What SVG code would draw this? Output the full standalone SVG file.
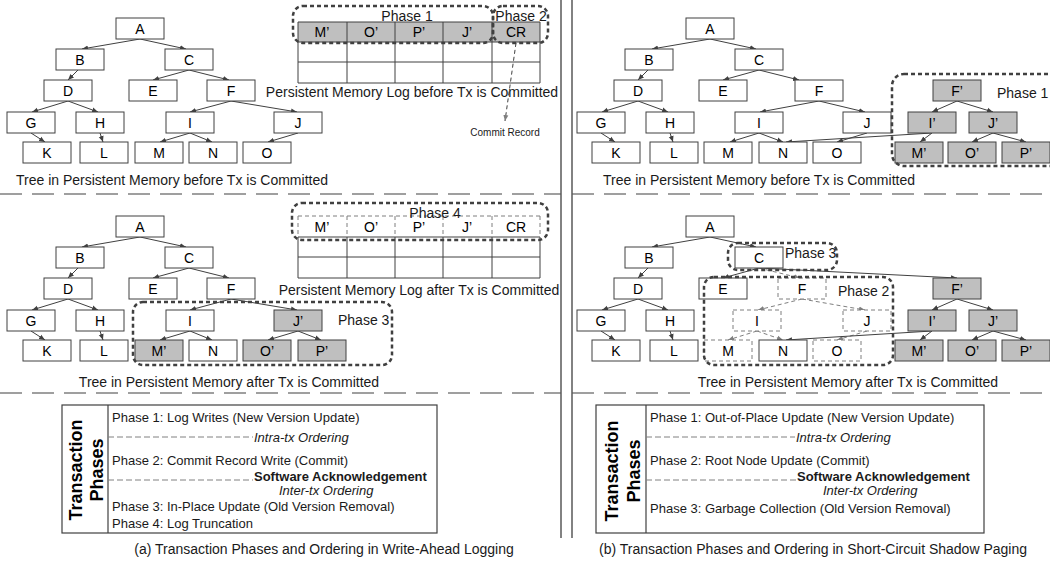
<svg xmlns="http://www.w3.org/2000/svg" width="1050" height="564" viewBox="0 0 1050 564">
<defs>
<marker id="ah" viewBox="0 0 6 6" refX="6" refY="3" markerWidth="6" markerHeight="6" markerUnits="userSpaceOnUse" orient="auto"><path d="M0,0.5 L6,3 L0,5.5 z" fill="#404040"/></marker>
<marker id="ahg" viewBox="0 0 6 6" refX="6" refY="3" markerWidth="6" markerHeight="6" markerUnits="userSpaceOnUse" orient="auto"><path d="M0,0.5 L6,3 L0,5.5 z" fill="#7f7f7f"/></marker>
</defs>
<style>
text{font-family:"Liberation Sans",Arial,sans-serif;fill:#1a1a1a}
.n rect{fill:#fff;stroke:#404040;stroke-width:1}
.n.g rect{fill:#bfbfbf}
.n.d rect{stroke:#7f7f7f;stroke-dasharray:4 3}
.n text{font-size:14px;text-anchor:middle;fill:#000}
.e line{stroke:#404040;stroke-width:1;marker-end:url(#ah)}
.e line.dg{stroke:#7f7f7f;stroke-dasharray:4 3;marker-end:url(#ahg)}
.ph rect{fill:none;stroke:#404040;stroke-width:2.5;stroke-dasharray:4 3}
.ph text,.cap{font-size:14px}
.mid{text-anchor:middle}
.tbl line{stroke:#404040;stroke-width:1}
.tbl line.dl{stroke:#7f7f7f;stroke-dasharray:4 3}
.tbl text{font-size:14px;text-anchor:middle;fill:#000}
.sep{stroke:#808080;stroke-width:1.5;stroke-dasharray:22 10}
.vl{stroke:#595959;stroke-width:1.5}
.box rect,.box line.s{fill:none;stroke:#404040;stroke-width:1.2}
.box line.o{stroke:#808080;stroke-width:1;stroke-dasharray:6 3}
.box text{font-size:13px}
.box text.it{font-style:italic}
.box text.bd{font-weight:bold}
.box text.tp{font-size:18px;font-weight:bold;text-anchor:middle;fill:#000}
</style>

<!-- separators -->
<g id="separators">
<line class="sep" x1="0" y1="194" x2="561" y2="194"/>
<line class="sep" x1="572" y1="194" x2="1050" y2="194"/>
<line class="sep" x1="0" y1="393" x2="561" y2="393"/>
<line class="sep" x1="572" y1="393" x2="1050" y2="393"/>
<line class="vl" x1="561" y1="0" x2="561" y2="538"/>
<line class="vl" x1="572" y1="0" x2="572" y2="538"/>
</g>

<!-- connectors -->
<g id="connectors" class="e">
<!-- top-left tree -->
<line x1="140" y1="39" x2="82" y2="49"/>
<line x1="140" y1="39" x2="186" y2="49"/>
<line x1="78" y1="70" x2="68" y2="80"/>
<line x1="189" y1="70" x2="153" y2="80"/>
<line x1="189" y1="70" x2="229" y2="80"/>
<line x1="68" y1="101" x2="32" y2="112"/>
<line x1="68" y1="101" x2="98" y2="112"/>
<line x1="231" y1="101" x2="190" y2="112"/>
<line x1="231" y1="101" x2="297" y2="112"/>
<line x1="31" y1="133" x2="45" y2="142"/>
<line x1="100" y1="133" x2="103" y2="142"/>
<line x1="190" y1="133" x2="160" y2="142"/>
<line x1="190" y1="133" x2="212" y2="142"/>
<line x1="298" y1="133" x2="268" y2="142"/>
<!-- commit record pointer -->
<line class="dg" x1="517" y1="36" x2="505" y2="121" style="stroke:#404040"/>
<!-- top-right tree -->
<line x1="710" y1="39" x2="652" y2="49"/>
<line x1="710" y1="39" x2="756" y2="49"/>
<line x1="648" y1="70" x2="638" y2="80"/>
<line x1="759" y1="70" x2="723" y2="80"/>
<line x1="759" y1="70" x2="799" y2="80"/>
<line x1="638" y1="101" x2="602" y2="112"/>
<line x1="638" y1="101" x2="668" y2="112"/>
<line x1="819" y1="101" x2="760" y2="112"/>
<line x1="819" y1="101" x2="865" y2="112"/>
<line x1="601" y1="133" x2="615" y2="142"/>
<line x1="670" y1="133" x2="673" y2="142"/>
<line x1="759" y1="133" x2="730" y2="142"/>
<line x1="759" y1="133" x2="783" y2="142"/>
<line x1="867" y1="133" x2="837" y2="142"/>
<line x1="957" y1="101" x2="932" y2="112"/>
<line x1="957" y1="101" x2="993" y2="112"/>
<line x1="932" y1="133" x2="920" y2="142"/>
<line x1="932" y1="133" x2="786" y2="142"/>
<line x1="993" y1="133" x2="972" y2="142"/>
<line x1="993" y1="133" x2="1026" y2="142"/>
<!-- bottom-left tree -->
<line x1="140" y1="237" x2="82" y2="247"/>
<line x1="140" y1="237" x2="186" y2="247"/>
<line x1="78" y1="268" x2="68" y2="278"/>
<line x1="189" y1="268" x2="153" y2="278"/>
<line x1="189" y1="268" x2="229" y2="278"/>
<line x1="68" y1="299" x2="32" y2="310"/>
<line x1="68" y1="299" x2="98" y2="310"/>
<line x1="231" y1="299" x2="190" y2="310"/>
<line x1="231" y1="299" x2="297" y2="310"/>
<line x1="31" y1="331" x2="45" y2="340"/>
<line x1="100" y1="331" x2="103" y2="340"/>
<line x1="190" y1="331" x2="160" y2="340"/>
<line x1="190" y1="331" x2="212" y2="340"/>
<line x1="298" y1="331" x2="268" y2="340"/>
<line x1="298" y1="331" x2="321" y2="340"/>
<!-- bottom-right tree -->
<line x1="710" y1="237" x2="652" y2="247"/>
<line x1="710" y1="237" x2="756" y2="247"/>
<line x1="648" y1="268" x2="638" y2="278"/>
<line x1="759" y1="268" x2="723" y2="278"/>
<line class="dg" x1="759" y1="268" x2="800" y2="278"/>
<line x1="759" y1="268" x2="957" y2="278"/>
<line x1="638" y1="299" x2="602" y2="310"/>
<line x1="638" y1="299" x2="668" y2="310"/>
<line class="dg" x1="802" y1="299" x2="758" y2="310"/>
<line class="dg" x1="802" y1="299" x2="865" y2="310"/>
<line x1="601" y1="331" x2="615" y2="340"/>
<line x1="670" y1="331" x2="673" y2="340"/>
<line class="dg" x1="757" y1="331" x2="728" y2="340"/>
<line class="dg" x1="757" y1="331" x2="783" y2="340"/>
<line class="dg" x1="867" y1="331" x2="837" y2="340"/>
<line x1="957" y1="299" x2="932" y2="310"/>
<line x1="957" y1="299" x2="993" y2="310"/>
<line x1="932" y1="331" x2="920" y2="340"/>
<line x1="932" y1="331" x2="786" y2="340"/>
<line x1="993" y1="331" x2="972" y2="340"/>
<line x1="993" y1="331" x2="1026" y2="340"/>
</g>

<!-- top-left tree nodes -->
<g id="tl-A" class="n"><rect x="116" y="18" width="48" height="21"/><text x="140" y="34">A</text></g>
<g id="tl-B" class="n"><rect x="56" y="49" width="48" height="21"/><text x="80" y="65">B</text></g>
<g id="tl-C" class="n"><rect x="165" y="49" width="48" height="21"/><text x="189" y="65">C</text></g>
<g id="tl-D" class="n"><rect x="44" y="80" width="48" height="21"/><text x="68" y="96">D</text></g>
<g id="tl-E" class="n"><rect x="129" y="80" width="48" height="21"/><text x="153" y="96">E</text></g>
<g id="tl-F" class="n"><rect x="207" y="80" width="48" height="21"/><text x="231" y="96">F</text></g>
<g id="tl-G" class="n"><rect x="7" y="112" width="48" height="21"/><text x="31" y="128">G</text></g>
<g id="tl-H" class="n"><rect x="76" y="112" width="48" height="21"/><text x="100" y="128">H</text></g>
<g id="tl-I" class="n"><rect x="166" y="112" width="48" height="21"/><text x="190" y="128">I</text></g>
<g id="tl-J" class="n"><rect x="274" y="112" width="48" height="21"/><text x="298" y="128">J</text></g>
<g id="tl-K" class="n"><rect x="23" y="142" width="48" height="21"/><text x="47" y="158">K</text></g>
<g id="tl-L" class="n"><rect x="80" y="142" width="48" height="21"/><text x="104" y="158">L</text></g>
<g id="tl-M" class="n"><rect x="135" y="142" width="48" height="21"/><text x="159" y="158">M</text></g>
<g id="tl-N" class="n"><rect x="189" y="142" width="48" height="21"/><text x="213" y="158">N</text></g>
<g id="tl-O" class="n"><rect x="243" y="142" width="48" height="21"/><text x="267" y="158">O</text></g>
<text class="cap mid" x="172" y="185">Tree in Persistent Memory before Tx is Committed</text>

<!-- top-left log -->
<g id="log-before" class="tbl">
<rect x="298" y="22" width="242" height="20" fill="#bfbfbf"/>
<line x1="298" y1="22" x2="540" y2="22"/>
<line x1="298" y1="42" x2="540" y2="42"/>
<line x1="298" y1="62" x2="540" y2="62"/>
<line x1="298" y1="83" x2="540" y2="83"/>
<line x1="298" y1="22" x2="298" y2="83"/>
<line x1="347" y1="22" x2="347" y2="83"/>
<line x1="395" y1="22" x2="395" y2="83"/>
<line x1="443" y1="22" x2="443" y2="83"/>
<line x1="492" y1="22" x2="492" y2="83"/>
<line x1="540" y1="22" x2="540" y2="83"/>
<text x="322" y="37">M’</text><text x="371" y="37">O’</text><text x="419" y="37">P’</text><text x="467" y="37">J’</text><text x="516" y="37">CR</text>
</g>
<g id="tl-phase1" class="ph"><rect x="293" y="6" width="200" height="37" rx="10"/><text class="mid" x="407" y="21">Phase 1</text></g>
<g id="tl-phase2" class="ph"><rect x="493" y="6" width="55" height="37" rx="10"/><text class="mid" x="521" y="21">Phase 2</text></g>
<text class="cap mid" x="412" y="97">Persistent Memory Log before Tx is Committed</text>
<text class="mid" x="505" y="136" style="font-size:10px">Commit Record</text>

<!-- top-right tree nodes -->
<g id="tr-A" class="n"><rect x="686" y="18" width="48" height="21"/><text x="710" y="34">A</text></g>
<g id="tr-B" class="n"><rect x="625" y="49" width="48" height="21"/><text x="649" y="65">B</text></g>
<g id="tr-C" class="n"><rect x="735" y="49" width="48" height="21"/><text x="759" y="65">C</text></g>
<g id="tr-D" class="n"><rect x="614" y="80" width="48" height="21"/><text x="638" y="96">D</text></g>
<g id="tr-E" class="n"><rect x="699" y="80" width="48" height="21"/><text x="723" y="96">E</text></g>
<g id="tr-F" class="n"><rect x="795" y="80" width="48" height="21"/><text x="819" y="96">F</text></g>
<g id="tr-G" class="n"><rect x="577" y="112" width="48" height="21"/><text x="601" y="128">G</text></g>
<g id="tr-H" class="n"><rect x="646" y="112" width="48" height="21"/><text x="670" y="128">H</text></g>
<g id="tr-I" class="n"><rect x="735" y="112" width="48" height="21"/><text x="759" y="128">I</text></g>
<g id="tr-J" class="n"><rect x="843" y="112" width="48" height="21"/><text x="867" y="128">J</text></g>
<g id="tr-K" class="n"><rect x="592" y="142" width="48" height="21"/><text x="616" y="158">K</text></g>
<g id="tr-L" class="n"><rect x="650" y="142" width="48" height="21"/><text x="674" y="158">L</text></g>
<g id="tr-M" class="n"><rect x="704" y="142" width="48" height="21"/><text x="728" y="158">M</text></g>
<g id="tr-N" class="n"><rect x="759" y="142" width="48" height="21"/><text x="783" y="158">N</text></g>
<g id="tr-O" class="n"><rect x="813" y="142" width="48" height="21"/><text x="837" y="158">O</text></g>
<g id="tr-Fp" class="n g"><rect x="933" y="80" width="48" height="21"/><text x="957" y="96">F’</text></g>
<g id="tr-Ip" class="n g"><rect x="908" y="112" width="48" height="21"/><text x="932" y="128">I’</text></g>
<g id="tr-Jp" class="n g"><rect x="969" y="112" width="48" height="21"/><text x="993" y="128">J’</text></g>
<g id="tr-Mp" class="n g"><rect x="895" y="142" width="48" height="21"/><text x="919" y="158">M’</text></g>
<g id="tr-Op" class="n g"><rect x="948" y="142" width="48" height="21"/><text x="972" y="158">O’</text></g>
<g id="tr-Pp" class="n g"><rect x="1002" y="142" width="48" height="21"/><text x="1026" y="158">P’</text></g>
<g id="tr-phase1" class="ph"><rect x="892" y="74" width="172" height="92" rx="12"/><text x="997" y="98">Phase 1</text></g>
<text class="cap mid" x="759" y="185">Tree in Persistent Memory before Tx is Committed</text>

<!-- bottom-left tree nodes -->
<g id="bl-A" class="n"><rect x="116" y="216" width="48" height="21"/><text x="140" y="232">A</text></g>
<g id="bl-B" class="n"><rect x="56" y="247" width="48" height="21"/><text x="80" y="263">B</text></g>
<g id="bl-C" class="n"><rect x="165" y="247" width="48" height="21"/><text x="189" y="263">C</text></g>
<g id="bl-D" class="n"><rect x="44" y="278" width="48" height="21"/><text x="68" y="294">D</text></g>
<g id="bl-E" class="n"><rect x="129" y="278" width="48" height="21"/><text x="153" y="294">E</text></g>
<g id="bl-F" class="n"><rect x="207" y="278" width="48" height="21"/><text x="231" y="294">F</text></g>
<g id="bl-G" class="n"><rect x="7" y="310" width="48" height="21"/><text x="31" y="326">G</text></g>
<g id="bl-H" class="n"><rect x="76" y="310" width="48" height="21"/><text x="100" y="326">H</text></g>
<g id="bl-I" class="n"><rect x="166" y="310" width="48" height="21"/><text x="190" y="326">I</text></g>
<g id="bl-Jp" class="n g"><rect x="274" y="310" width="48" height="21"/><text x="298" y="326">J’</text></g>
<g id="bl-K" class="n"><rect x="23" y="340" width="48" height="21"/><text x="47" y="356">K</text></g>
<g id="bl-L" class="n"><rect x="80" y="340" width="48" height="21"/><text x="104" y="356">L</text></g>
<g id="bl-Mp" class="n g"><rect x="135" y="340" width="48" height="21"/><text x="159" y="356">M’</text></g>
<g id="bl-N" class="n"><rect x="189" y="340" width="48" height="21"/><text x="213" y="356">N</text></g>
<g id="bl-Op" class="n g"><rect x="243" y="340" width="48" height="21"/><text x="267" y="356">O’</text></g>
<g id="bl-Pp" class="n g"><rect x="298" y="340" width="48" height="21"/><text x="322" y="356">P’</text></g>
<g id="bl-phase3" class="ph"><rect x="133" y="302" width="259" height="63" rx="10"/><text x="338" y="325">Phase 3</text></g>
<text class="cap mid" x="229" y="387">Tree in Persistent Memory after Tx is Committed</text>

<!-- bottom-left log -->
<g id="log-after" class="tbl">
<line class="dl" x1="298" y1="216" x2="540" y2="216"/>
<line class="dl" x1="298" y1="216" x2="298" y2="237"/>
<line class="dl" x1="347" y1="216" x2="347" y2="237"/>
<line class="dl" x1="395" y1="216" x2="395" y2="237"/>
<line class="dl" x1="443" y1="216" x2="443" y2="237"/>
<line class="dl" x1="492" y1="216" x2="492" y2="237"/>
<line class="dl" x1="540" y1="216" x2="540" y2="237"/>
<line x1="298" y1="237" x2="540" y2="237"/>
<line x1="298" y1="257" x2="540" y2="257"/>
<line x1="298" y1="278" x2="540" y2="278"/>
<line x1="298" y1="237" x2="298" y2="278"/>
<line x1="347" y1="237" x2="347" y2="278"/>
<line x1="395" y1="237" x2="395" y2="278"/>
<line x1="443" y1="237" x2="443" y2="278"/>
<line x1="492" y1="237" x2="492" y2="278"/>
<line x1="540" y1="237" x2="540" y2="278"/>
<text x="322" y="232">M’</text><text x="371" y="232">O’</text><text x="419" y="232">P’</text><text x="467" y="232">J’</text><text x="516" y="232">CR</text>
</g>
<g id="bl-phase4" class="ph"><rect x="292" y="203" width="256" height="37" rx="10"/><text class="mid" x="435" y="218">Phase 4</text></g>
<text class="cap mid" x="419" y="295">Persistent Memory Log after Tx is Committed</text>

<!-- bottom-right tree nodes -->
<g id="br-A" class="n"><rect x="686" y="216" width="48" height="21"/><text x="710" y="232">A</text></g>
<g id="br-B" class="n"><rect x="625" y="247" width="48" height="21"/><text x="649" y="263">B</text></g>
<g id="br-C" class="n"><rect x="735" y="247" width="48" height="21"/><text x="759" y="263">C</text></g>
<g id="br-D" class="n"><rect x="614" y="278" width="48" height="21"/><text x="638" y="294">D</text></g>
<g id="br-E" class="n"><rect x="699" y="278" width="48" height="21"/><text x="723" y="294">E</text></g>
<g id="br-F" class="n d"><rect x="778" y="278" width="48" height="21"/><text x="802" y="294">F</text></g>
<g id="br-G" class="n"><rect x="577" y="310" width="48" height="21"/><text x="601" y="326">G</text></g>
<g id="br-H" class="n"><rect x="646" y="310" width="48" height="21"/><text x="670" y="326">H</text></g>
<g id="br-I" class="n d"><rect x="733" y="310" width="48" height="21"/><text x="757" y="326">I</text></g>
<g id="br-J" class="n d"><rect x="843" y="310" width="48" height="21"/><text x="867" y="326">J</text></g>
<g id="br-K" class="n"><rect x="592" y="340" width="48" height="21"/><text x="616" y="356">K</text></g>
<g id="br-L" class="n"><rect x="650" y="340" width="48" height="21"/><text x="674" y="356">L</text></g>
<g id="br-M" class="n d"><rect x="704" y="340" width="48" height="21"/><text x="728" y="356">M</text></g>
<g id="br-N" class="n"><rect x="759" y="340" width="48" height="21"/><text x="783" y="356">N</text></g>
<g id="br-O" class="n d"><rect x="813" y="340" width="48" height="21"/><text x="837" y="356">O</text></g>
<g id="br-Fp" class="n g"><rect x="933" y="278" width="48" height="21"/><text x="957" y="294">F’</text></g>
<g id="br-Ip" class="n g"><rect x="908" y="310" width="48" height="21"/><text x="932" y="326">I’</text></g>
<g id="br-Jp" class="n g"><rect x="969" y="310" width="48" height="21"/><text x="993" y="326">J’</text></g>
<g id="br-Mp" class="n g"><rect x="895" y="340" width="48" height="21"/><text x="919" y="356">M’</text></g>
<g id="br-Op" class="n g"><rect x="948" y="340" width="48" height="21"/><text x="972" y="356">O’</text></g>
<g id="br-Pp" class="n g"><rect x="1002" y="340" width="48" height="21"/><text x="1026" y="356">P’</text></g>
<g id="br-phase3" class="ph"><rect x="728" y="243" width="109" height="27" rx="10"/><text x="785" y="258">Phase 3</text></g>
<g id="br-phase2" class="ph"><rect x="704" y="277" width="189" height="88" rx="10"/><text x="838" y="296">Phase 2</text></g>
<text class="cap mid" x="848" y="387">Tree in Persistent Memory after Tx is Committed</text>

<!-- bottom-left phases box -->
<g id="wal-phases" class="box">
<rect x="62" y="405" width="375" height="128"/>
<line class="s" x1="108" y1="405" x2="108" y2="533"/>
<text class="tp" transform="translate(82,470) rotate(-90)">Transaction</text>
<text class="tp" transform="translate(103,470) rotate(-90)">Phases</text>
<text x="112" y="422">Phase 1: Log Writes (New Version Update)</text>
<line class="o" x1="108" y1="437" x2="253" y2="437"/>
<text class="it" x="254" y="442">Intra-tx Ordering</text>
<text x="112" y="465">Phase 2: Commit Record Write (Commit)</text>
<line class="o" x1="108" y1="480" x2="253" y2="480"/>
<text class="bd" x="254" y="481">Software Acknowledgement</text>
<text class="it" x="279" y="495">Inter-tx Ordering</text>
<text x="112" y="511">Phase 3: In-Place Update (Old Version Removal)</text>
<text x="112" y="528">Phase 4: Log Truncation</text>
</g>
<text class="cap mid" x="324" y="554">(a) Transaction Phases and Ordering in Write-Ahead Logging</text>

<!-- bottom-right phases box -->
<g id="ssp-phases" class="box">
<rect x="596" y="405" width="388" height="128"/>
<line class="s" x1="646" y1="405" x2="646" y2="533"/>
<text class="tp" transform="translate(618,471) rotate(-90)">Transaction</text>
<text class="tp" transform="translate(640,471) rotate(-90)">Phases</text>
<text x="650" y="422">Phase 1: Out-of-Place Update (New Version Update)</text>
<line class="o" x1="646" y1="437" x2="795" y2="437"/>
<text class="it" x="796" y="442">Intra-tx Ordering</text>
<text x="650" y="465">Phase 2: Root Node Update (Commit)</text>
<line class="o" x1="646" y1="480" x2="796" y2="480"/>
<text class="bd" x="797" y="481">Software Acknowledgement</text>
<text class="it" x="823" y="495">Inter-tx Ordering</text>
<text x="650" y="513">Phase 3: Garbage Collection (Old Version Removal)</text>
</g>
<text class="cap mid" x="813" y="554">(b) Transaction Phases and Ordering in Short-Circuit Shadow Paging</text>
</svg>
